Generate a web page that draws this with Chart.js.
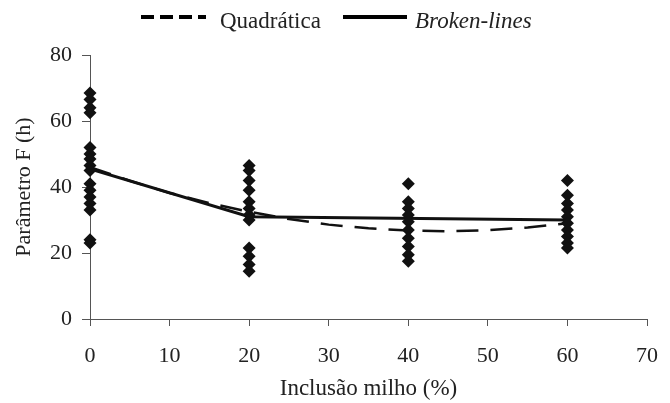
<!DOCTYPE html>
<html>
<head>
<meta charset="utf-8">
<script src="https://cdn.jsdelivr.net/npm/chart.js@4/dist/chart.umd.min.js"></script>
<style>
  html, body { margin: 0; padding: 0; background: #fff; }
  #wrap { width: 670px; height: 403px; }
</style>
</head>
<body>
<div id="wrap"><canvas id="chart"></canvas></div>
<script>
/* =========================
   DATA
========================= */

const xTicks = [0, 10, 20, 30, 40, 50, 60, 70];
const yTicks = [0, 20, 40, 60, 80];

// observed points, one list per inclusion level
const obs0 = [68.5, 66.5, 64, 62.5, 52, 50, 48.5, 46.5, 45, 41, 39, 37, 35, 33, 24, 23];
const obs20 = [46.5, 45, 42, 39, 35.5, 33.5, 31.5, 30, 21.5, 19, 16.5, 14.5];
const obs40 = [41, 35.5, 33.5, 31.5, 29.5, 27, 24.5, 22, 19.5, 17.5];
const obs60 = [42, 37.5, 35, 33, 31, 29, 27, 25, 23, 21.5];

// quadratic curve
const quadX = [0, 5, 10, 15, 20, 25, 30, 35, 40, 45, 50, 55, 60];
const quadY = [46, 41.9, 38.2, 35.1, 32.5, 30.3, 28.6, 27.5, 26.8, 26.6, 26.9, 27.7, 29];

// broken-line model
const brokenX = [0, 20, 60];
const brokenY = [45.5, 31, 30];

const labelQuad = "Quadrática";
const labelBroken = "Broken-lines";
const xTitle = "Inclusão milho (%)";
const yTitle = "Parâmetro F (h)";

/* =========================
   HELPERS
========================= */

function pts(xs, ys) {
  return ys.map((y, i) => ({ x: xs[i], y }));
}

const observed = []
  .concat(obs0.map(y => ({ x: 0, y })))
  .concat(obs20.map(y => ({ x: 20, y })))
  .concat(obs40.map(y => ({ x: 40, y })))
  .concat(obs60.map(y => ({ x: 60, y })));

const serif = "'Liberation Serif', 'DejaVu Serif', serif";

// legend drawn by hand (one label is italic)
const topLegend = {
  id: "topLegend",
  afterDraw(c) {
    const ctx = c.ctx;
    ctx.save();
    ctx.strokeStyle = "#000";
    ctx.fillStyle = "#222";
    ctx.textBaseline = "middle";

    ctx.lineWidth = 4;
    ctx.setLineDash([13, 6]);
    ctx.beginPath();
    ctx.moveTo(141, 17);
    ctx.lineTo(206, 17);
    ctx.stroke();

    ctx.setLineDash([]);
    ctx.beginPath();
    ctx.moveTo(343, 17);
    ctx.lineTo(407, 17);
    ctx.stroke();

    ctx.font = "23px " + serif;
    ctx.fillText(labelQuad, 220, 22);
    ctx.font = "italic 23px " + serif;
    ctx.fillText(labelBroken, 415, 22);
    ctx.restore();
  }
};

/* =========================
   CHART
========================= */

new Chart(document.getElementById("chart"), {
  type: "scatter",
  data: {
    datasets: [
      {
        label: labelBroken,
        data: pts(brokenX, brokenY),
        showLine: true,
        borderColor: "#111",
        borderWidth: 3,
        pointRadius: 0,
        order: 2
      },
      {
        label: labelQuad,
        data: pts(quadX, quadY),
        showLine: true,
        borderColor: "#111",
        borderWidth: 2.5,
        borderDash: [22, 12],
        pointRadius: 0,
        order: 3
      },
      {
        label: "obs",
        data: observed,
        pointStyle: "rectRot",
        pointRadius: 6.5,
        backgroundColor: "#111",
        borderColor: "#111",
        borderWidth: 0,
        clip: false,
        order: 1
      }
    ]
  },
  options: {
    responsive: true,
    maintainAspectRatio: false,
    animation: false,
    layout: { padding: { top: 55, right: 23, left: 0, bottom: 0 } },
    plugins: {
      legend: { display: false },
      tooltip: { enabled: false }
    },
    scales: {
      x: {
        type: "linear",
        min: 0,
        max: 70,
        afterBuildTicks: s => { s.ticks = xTicks.map(v => ({ value: v })); },
        afterFit: s => {
          s.height = 84;
          s.paddingLeft = 0;
          s.paddingRight = 0;
        },
        border: { color: "#555", width: 1 },
        grid: { drawOnChartArea: false, color: "#555", tickLength: 7 },
        ticks: { color: "#222", padding: 17, font: { family: serif, size: 22 } },
        title: {
          display: true,
          text: xTitle,
          color: "#222",
          padding: { top: 0, bottom: 0 },
          font: { family: serif, size: 23 }
        }
      },
      y: {
        min: 0,
        max: 80,
        afterBuildTicks: s => { s.ticks = yTicks.map(v => ({ value: v })); },
        afterFit: s => { s.width = 90; },
        border: { color: "#555", width: 1 },
        grid: { drawOnChartArea: false, color: "#555", tickLength: 8 },
        ticks: { color: "#222", padding: 10, font: { family: serif, size: 22 } },
        title: {
          display: true,
          text: yTitle,
          color: "#222",
          padding: { top: 11, bottom: 0 },
          font: { family: serif, size: 22 }
        }
      }
    }
  },
  plugins: [topLegend]
});
</script>
</body>
</html>
